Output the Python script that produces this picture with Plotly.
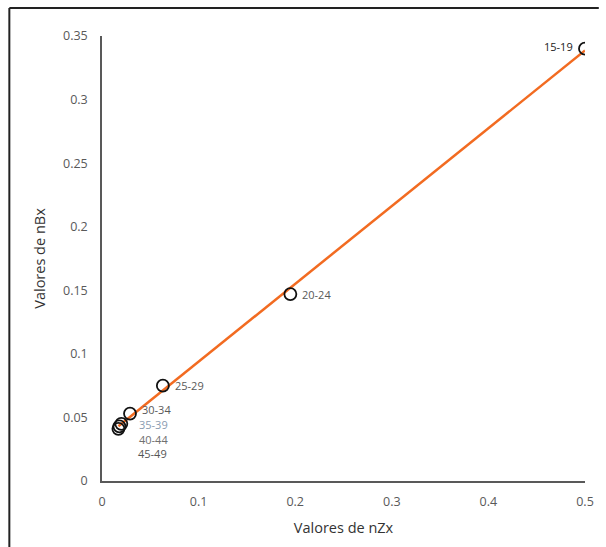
import numpy as np
import plotly.graph_objects as go

age_groups = ["15-19", "20-24", "25-29", "30-34", "35-39", "40-44", "45-49"]
nZx = [0.500, 0.195, 0.063, 0.029, 0.020, 0.018, 0.017]
nBx = [0.340, 0.147, 0.075, 0.053, 0.045, 0.043, 0.041]

x_ticks = [0, 0.1, 0.2, 0.3, 0.4, 0.5]
y_ticks = [0, 0.05, 0.1, 0.15, 0.2, 0.25, 0.3, 0.35]

slope, intercept = np.polyfit(nZx, nBx, 1)
trend_x = [min(nZx), max(nZx)]
trend_y = [slope * v + intercept for v in trend_x]

# label placement (xanchor, xshift, yshift) and colour per point
label_anchor = ["right", "left", "left", "left", "left", "left", "left"]
label_xshift = [-10, 10, 10, 10, 16, 18, 18]
label_yshift = [2, 0, 0, 4, -1, -13, -25]
label_colors = ["#222222", "#595959", "#595959", "#595959", "#8a9bb0", "#707070", "#555555"]

fig = go.Figure()
fig.add_trace(go.Scatter(
    x=trend_x, y=trend_y, mode="lines",
    line=dict(color="#F26B21", width=2.5), hoverinfo="skip", showlegend=False))
fig.add_trace(go.Scatter(
    x=nZx, y=nBx, mode="markers",
    marker=dict(symbol="circle-open", size=12, color="#111111", line=dict(width=1.8)),
    showlegend=False))

for i, g in enumerate(age_groups):
    fig.add_annotation(x=nZx[i], y=nBx[i], text=g, showarrow=False,
                       xanchor=label_anchor[i], yanchor="middle",
                       xshift=label_xshift[i], yshift=label_yshift[i],
                       font=dict(size=11, color=label_colors[i]))

W, H = 606, 547
L, R, T, B = 102, 14, 36, 66
pw, ph = W - L - R, H - T - B

def px(xpix):
    return (xpix - L) / pw

def py(ypix):
    return (H - B - ypix) / ph

fig.update_layout(
    width=W, height=H,
    margin=dict(l=L, r=R, t=T, b=B),
    paper_bgcolor="white", plot_bgcolor="white",
    font=dict(family="Open Sans, Liberation Sans, sans-serif", color="#595959", size=12.5),
    xaxis=dict(range=[0, 0.5], tickvals=x_ticks, ticktext=[f"{v:g}" for v in x_ticks],
               showgrid=False, zeroline=False, showline=True, linecolor="#595959", linewidth=1.5,
               ticks="", ticklabelstandoff=8,
               title=dict(text="Valores de nZx", font=dict(size=14.5, color="#333333"), standoff=14)),
    yaxis=dict(range=[0, 0.35], tickvals=y_ticks, ticktext=[f"{v:g}" for v in y_ticks],
               showgrid=False, zeroline=False, showline=True, linecolor="#595959", linewidth=1.5,
               ticks="", ticklabelstandoff=10,
               title=dict(text="Valores de nBx", font=dict(size=14.5, color="#333333"), standoff=14)),
    shapes=[
        dict(type="line", xref="paper", yref="paper", x0=px(8), x1=px(606), y0=py(8), y1=py(8),
             line=dict(color="#222222", width=2)),
        dict(type="line", xref="paper", yref="paper", x0=px(8), x1=px(8), y0=py(8), y1=py(547),
             line=dict(color="#222222", width=2)),
    ],
)

fig.write_html("out.html")
